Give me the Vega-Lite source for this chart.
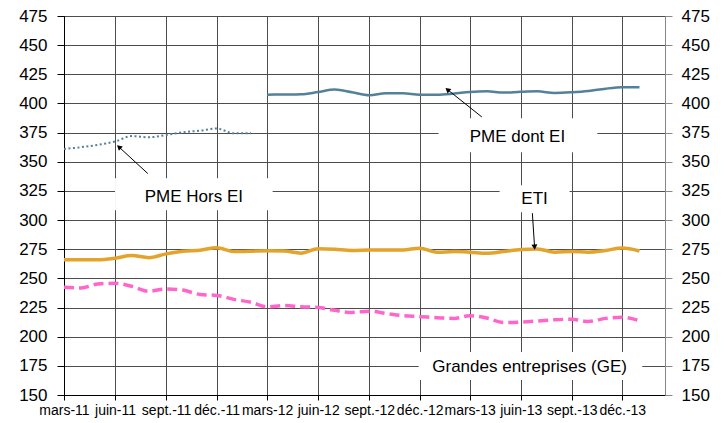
{
  "$schema": "https://vega.github.io/schema/vega-lite/v6.json",
  "width": 601,
  "height": 379,
  "autosize": "none",
  "padding": {"left": 64, "top": 16, "right": 62, "bottom": 28},
  "background": "white",
  "config": {
    "font": "Liberation Sans",
    "view": {"stroke": "#000", "strokeWidth": 1},
    "axis": {"labelFont": "Liberation Sans", "labelColor": "#000", "domainColor": "#000", "tickColor": "#000"}
  },
  "datasets": {
    "series": [
      {"date": "2011-03-01", "hors": 361, "dont": null, "eti": 265.9, "ge": 242.4},
      {"date": "2011-04-01", "hors": 362.5, "dont": null, "eti": 266, "ge": 241.8},
      {"date": "2011-05-01", "hors": 364.5, "dont": null, "eti": 266, "ge": 245.2},
      {"date": "2011-06-01", "hors": 367.4, "dont": null, "eti": 267.3, "ge": 245.8},
      {"date": "2011-07-01", "hors": 372, "dont": null, "eti": 269.6, "ge": 243.2},
      {"date": "2011-08-01", "hors": 371, "dont": null, "eti": 267.8, "ge": 239},
      {"date": "2011-09-01", "hors": 373, "dont": null, "eti": 271, "ge": 241},
      {"date": "2011-10-01", "hors": 375.3, "dont": null, "eti": 273.3, "ge": 240},
      {"date": "2011-11-01", "hors": 376.7, "dont": null, "eti": 274.2, "ge": 236.2},
      {"date": "2011-12-01", "hors": 378.5, "dont": null, "eti": 276.2, "ge": 235.4},
      {"date": "2012-01-01", "hors": 374.4, "dont": null, "eti": 273, "ge": 232},
      {"date": "2012-02-01", "hors": 374.5, "dont": null, "eti": 273.3, "ge": 229.5},
      {"date": "2012-03-01", "hors": null, "dont": 407.5, "eti": 273.8, "ge": 225.6},
      {"date": "2012-04-01", "hors": null, "dont": 407.7, "eti": 273.5, "ge": 226.8},
      {"date": "2012-05-01", "hors": null, "dont": 407.8, "eti": 271.6, "ge": 225.6},
      {"date": "2012-06-01", "hors": null, "dont": 409.8, "eti": 275.5, "ge": 225.1},
      {"date": "2012-07-01", "hors": null, "dont": 411.9, "eti": 275, "ge": 222.6},
      {"date": "2012-08-01", "hors": null, "dont": 409.6, "eti": 273.9, "ge": 220.8},
      {"date": "2012-09-01", "hors": null, "dont": 407, "eti": 274.4, "ge": 221.9},
      {"date": "2012-10-01", "hors": null, "dont": 408.7, "eti": 274.4, "ge": 220},
      {"date": "2012-11-01", "hors": null, "dont": 408.7, "eti": 274.4, "ge": 218},
      {"date": "2012-12-01", "hors": null, "dont": 407.5, "eti": 275.9, "ge": 217.2},
      {"date": "2013-01-01", "hors": null, "dont": 407.5, "eti": 272.4, "ge": 216.3},
      {"date": "2013-02-01", "hors": null, "dont": 408.5, "eti": 273, "ge": 215.7},
      {"date": "2013-03-01", "hors": null, "dont": 409.8, "eti": 272.5, "ge": 218},
      {"date": "2013-04-01", "hors": null, "dont": 410.4, "eti": 271.5, "ge": 216},
      {"date": "2013-05-01", "hors": null, "dont": 409.3, "eti": 273, "ge": 212.2},
      {"date": "2013-06-01", "hors": null, "dont": 410, "eti": 274.7, "ge": 212.5},
      {"date": "2013-07-01", "hors": null, "dont": 410.4, "eti": 275.3, "ge": 213.4},
      {"date": "2013-08-01", "hors": null, "dont": 409, "eti": 272.5, "ge": 214.5},
      {"date": "2013-09-01", "hors": null, "dont": 409.6, "eti": 273, "ge": 215},
      {"date": "2013-10-01", "hors": null, "dont": 410.7, "eti": 272.5, "ge": 213},
      {"date": "2013-11-01", "hors": null, "dont": 412.7, "eti": 274, "ge": 215.7},
      {"date": "2013-12-01", "hors": null, "dont": 413.9, "eti": 276, "ge": 216.6},
      {"date": "2014-01-01", "hors": null, "dont": 414, "eti": 273.5, "ge": 213.7}
    ],
    "boxes": [
      {"label": "PME Hors EI", "d1": "2011-06-01", "d2": "2012-03-11", "v1": 335.9, "v2": 308.5, "td": "2011-10-21", "tv": 320},
      {"label": "PME dont EI", "d1": "2013-01-04", "d2": "2013-10-17", "v1": 387.3, "v2": 358.2, "td": "2013-05-26", "tv": 371.5},
      {"label": "ETI", "d1": "2013-04-24", "d2": "2013-08-28", "v1": 329.9, "v2": 306.8, "td": "2013-06-26", "tv": 318.5},
      {"label": "Grandes entreprises (GE)", "d1": "2012-11-29", "d2": "2014-01-06", "v1": 186.8, "v2": 162.8, "td": "2013-06-17", "tv": 174}
    ],
    "arrows": [
      {"name": "a1", "d": "2011-07-30", "v": 339.9, "dh": "2011-06-08", "vh": 362.7},
      {"name": "a2", "d": "2013-03-23", "v": 388.4, "dh": "2013-01-20", "vh": 411.9},
      {"name": "a3", "d": "2013-06-22", "v": 305.9, "dh": "2013-06-26", "vh": 276.8}
    ]
  },
  "resolve": {"axis": {"y": "independent"}},
  "layer": [
    {
      "data": {"name": "boxes"},
      "mark": {"type": "rect", "fill": "white", "stroke": null},
      "encoding": {
        "x": {
          "field": "d1", "type": "temporal", "title": null,
          "scale": {"type": "utc", "domain": [{"year": 2011, "month": 3, "date": 1, "utc": true}, {"year": 2014, "month": 2, "date": 16, "utc": true}]},
          "axis": {
            "values": [
              {"year": 2011, "month": 3, "date": 1, "utc": true}, {"year": 2011, "month": 6, "date": 1, "utc": true},
              {"year": 2011, "month": 9, "date": 1, "utc": true}, {"year": 2011, "month": 12, "date": 1, "utc": true},
              {"year": 2012, "month": 3, "date": 1, "utc": true}, {"year": 2012, "month": 6, "date": 1, "utc": true},
              {"year": 2012, "month": 9, "date": 1, "utc": true}, {"year": 2012, "month": 12, "date": 1, "utc": true},
              {"year": 2013, "month": 3, "date": 1, "utc": true}, {"year": 2013, "month": 6, "date": 1, "utc": true},
              {"year": 2013, "month": 9, "date": 1, "utc": true}, {"year": 2013, "month": 12, "date": 1, "utc": true}
            ],
            "labelExpr": "['janv.','févr.','mars','avr.','mai','juin','juil.','août','sept.','oct.','nov.','déc.'][utcmonth(datum.value)] + '-' + utcFormat(datum.value, '%y')",
            "grid": true, "gridColor": "#4d4d4d", "gridWidth": 1,
            "tickSize": 5, "labelPadding": 3, "labelFontSize": 14, "labelAngle": 0,
            "labelOverlap": false, "labelFlush": false
          }
        },
        "x2": {"field": "d2"},
        "y": {
          "field": "v1", "type": "quantitative", "title": null,
          "scale": {"domain": [150, 475], "nice": false, "zero": false},
          "axis": {
            "orient": "left", "values": [150, 175, 200, 225, 250, 275, 300, 325, 350, 375, 400, 425, 450, 475],
            "grid": true, "gridColor": "#4d4d4d", "gridWidth": 1,
            "tickSize": 7, "labelPadding": 10, "labelFontSize": 17
          }
        },
        "y2": {"field": "v2"}
      }
    },
    {
      "data": {"name": "series"},
      "mark": {"type": "line", "color": "#53819A", "strokeWidth": 2, "strokeDash": [2, 2.5], "interpolate": "monotone"},
      "encoding": {
        "x": {"field": "date", "type": "temporal"},
        "y": {"field": "hors", "type": "quantitative", "axis": null}
      }
    },
    {
      "data": {"name": "series"},
      "mark": {"type": "line", "color": "#53819A", "strokeWidth": 2.5, "interpolate": "monotone"},
      "encoding": {
        "x": {"field": "date", "type": "temporal"},
        "y": {"field": "dont", "type": "quantitative", "axis": null}
      }
    },
    {
      "data": {"name": "series"},
      "mark": {"type": "line", "color": "#E4A32B", "strokeWidth": 3.5, "interpolate": "monotone"},
      "encoding": {
        "x": {"field": "date", "type": "temporal"},
        "y": {"field": "eti", "type": "quantitative", "axis": null}
      }
    },
    {
      "data": {"name": "series"},
      "mark": {"type": "line", "color": "#FF66CC", "strokeWidth": 3.5, "strokeDash": [10, 5], "interpolate": "monotone"},
      "encoding": {
        "x": {"field": "date", "type": "temporal"},
        "y": {
          "field": "ge", "type": "quantitative", "title": null,
          "axis": {
            "orient": "right", "values": [150, 175, 200, 225, 250, 275, 300, 325, 350, 375, 400, 425, 450, 475],
            "grid": false, "tickSize": 7, "labelPadding": 9, "labelFontSize": 17,
            "domainColor": "#888", "tickColor": "#888"
          }
        }
      }
    },
    {
      "data": {"name": "arrows"},
      "mark": {"type": "rule", "color": "#000", "strokeWidth": 1},
      "encoding": {
        "x": {"field": "d", "type": "temporal"},
        "x2": {"field": "dh"},
        "y": {"field": "v", "type": "quantitative", "axis": null},
        "y2": {"field": "vh"}
      }
    },
    {
      "data": {"name": "arrows"},
      "transform": [{"filter": "datum.name == 'a1'"}],
      "mark": {"type": "point", "shape": "triangle-up", "filled": true, "color": "#000", "size": 35, "angle": 312, "opacity": 1},
      "encoding": {
        "x": {"field": "dh", "type": "temporal"},
        "y": {"field": "vh", "type": "quantitative", "axis": null}
      }
    },
    {
      "data": {"name": "arrows"},
      "transform": [{"filter": "datum.name == 'a2'"}],
      "mark": {"type": "point", "shape": "triangle-up", "filled": true, "color": "#000", "size": 35, "angle": 309, "opacity": 1},
      "encoding": {
        "x": {"field": "dh", "type": "temporal"},
        "y": {"field": "vh", "type": "quantitative", "axis": null}
      }
    },
    {
      "data": {"name": "arrows"},
      "transform": [{"filter": "datum.name == 'a3'"}],
      "mark": {"type": "point", "shape": "triangle-up", "filled": true, "color": "#000", "size": 35, "angle": 176, "opacity": 1},
      "encoding": {
        "x": {"field": "dh", "type": "temporal"},
        "y": {"field": "vh", "type": "quantitative", "axis": null}
      }
    },
    {
      "data": {"name": "boxes"},
      "mark": {"type": "text", "font": "Liberation Sans", "fontSize": 17, "color": "#000", "align": "center", "baseline": "middle"},
      "encoding": {
        "x": {"field": "td", "type": "temporal"},
        "y": {"field": "tv", "type": "quantitative", "axis": null},
        "text": {"field": "label"}
      }
    }
  ]
}
